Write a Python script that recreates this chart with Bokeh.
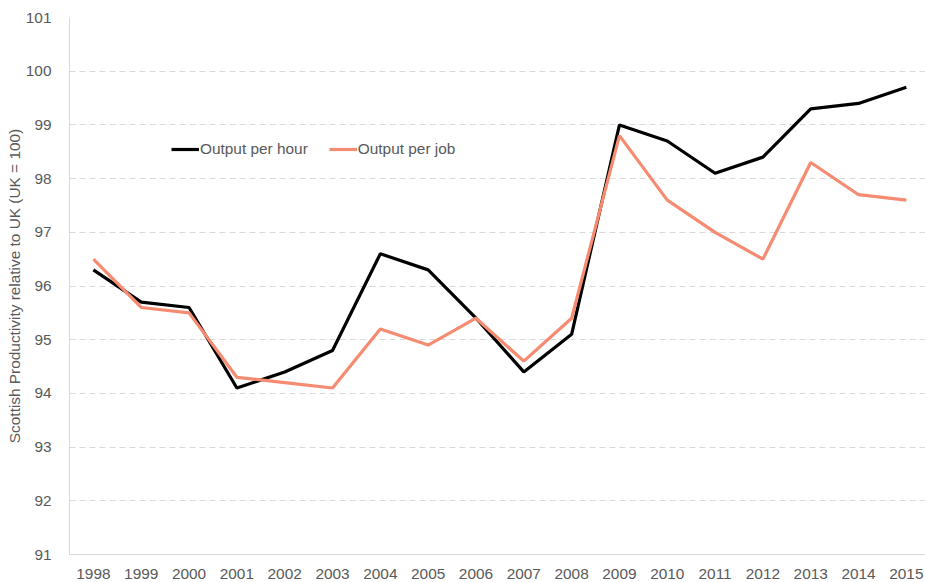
from bokeh.plotting import figure
from bokeh.embed import file_html
from bokeh.resources import INLINE
from bokeh.models import FixedTicker, Legend, LegendItem, ColumnDataSource

years = list(range(1998, 2016))
per_hour = [96.3, 95.7, 95.6, 94.1, 94.4, 94.8, 96.6, 96.3, 95.4, 94.4, 95.1,
            99.0, 98.7, 98.1, 98.4, 99.3, 99.4, 99.7]
per_job = [96.5, 95.6, 95.5, 94.3, 94.2, 94.1, 95.2, 94.9, 95.4, 94.6, 95.4,
           98.8, 97.6, 97.0, 96.5, 98.3, 97.7, 97.6]
y_ticks = list(range(91, 102))

FONT = "Liberation Sans"
GREY = "#595959"
FS = "15.4px"

p = figure(width=925, height=582, output_backend="svg", toolbar_location=None,
           x_range=(1997.5, 2015.4), y_range=(91, 101),
           min_border_left=69, min_border_right=0, min_border_top=17, min_border_bottom=28)
p.outline_line_color = None
p.background_fill_color = "white"

src = ColumnDataSource(dict(x=years, h=per_hour, j=per_job))
r1 = p.line("x", "h", source=src, line_color="black", line_width=3.2)
r2 = p.line("x", "j", source=src, line_color="#F58B70", line_width=3.2)

p.xaxis.ticker = FixedTicker(ticks=years)
p.yaxis.ticker = FixedTicker(ticks=y_ticks)
for ax in (p.xaxis[0], p.yaxis[0]):
    ax.major_tick_line_color = None
    ax.minor_tick_line_color = None
    ax.axis_line_color = "#d9d9d9"
    ax.axis_line_width = 1
    ax.major_label_text_font = FONT
    ax.major_label_text_font_size = FS
    ax.major_label_text_color = GREY
p.xaxis.major_label_standoff = 8
p.yaxis.major_label_standoff = 12

p.yaxis.axis_label = "Scottish Productivity relative to UK (UK = 100)"
p.yaxis.axis_label_text_font = FONT
p.yaxis.axis_label_text_font_size = FS
p.yaxis.axis_label_text_font_style = "normal"
p.yaxis.axis_label_text_color = GREY
p.yaxis.axis_label_standoff = 0

p.xgrid.grid_line_color = None
p.ygrid.grid_line_color = "#d9d9d9"
p.ygrid.grid_line_dash = "6 4"
p.ygrid.grid_line_width = 1

legend = Legend(items=[LegendItem(label="Output per hour", renderers=[r1]),
                       LegendItem(label="Output per job", renderers=[r2])],
                location=(102, 395), orientation="horizontal",
                border_line_color=None, background_fill_alpha=0,
                padding=0, margin=0, spacing=21, label_standoff=1,
                glyph_width=28, glyph_height=20,
                label_text_font=FONT, label_text_font_size=FS,
                label_text_color=GREY)
p.add_layout(legend)

open("out.html", "w").write(file_html(p, INLINE))
